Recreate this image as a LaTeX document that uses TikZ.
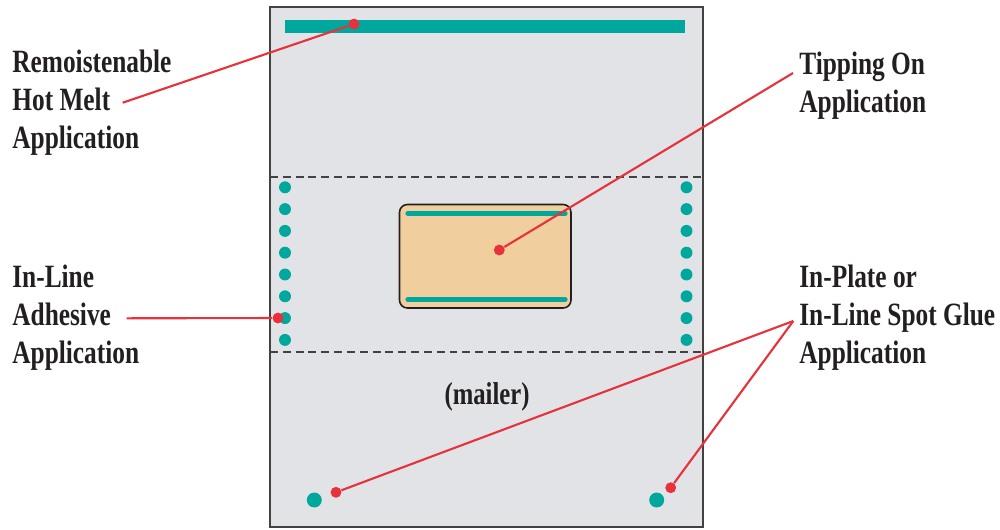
\documentclass[tikz,border=0pt]{standalone}
\usepackage{fontspec}
\newfontfamily\calloutfont{Liberation Serif}[FakeStretch=0.78]
\definecolor{sheet}{HTML}{E2E3E7}
\definecolor{glue}{HTML}{00A79D}
\definecolor{leader}{HTML}{E8313A}
\definecolor{card}{HTML}{F1CE9E}
\definecolor{ink}{HTML}{231F20}

\tikzset{%
  every node/.style={
    inner sep=0pt
  },
  callout/.style={
    font={\calloutfont\bfseries\fontsize{18.5pt}{21.4pt}\selectfont},
    align=left, anchor=base west, text=ink
  },
  gluedot/.style={circle, fill=glue, minimum size=6.8pt},
  spotdot/.style={circle, fill=glue, minimum size=8.5pt},
  pin/.style={circle, fill=leader, minimum size=6.2pt},
  leadline/.style={draw=leader, line width=1.2pt},
  gluebar/.style={draw=glue, line width=3pt, line cap=round}
}

\begin{document}
\begin{tikzpicture}[x=0.02cm, y=-0.02cm]
        \useasboundingbox (0,0) rectangle (1000,529);
        % mailer sheet
        \draw[draw=ink!85, fill=sheet, line width=1.1pt] (270,7) rectangle (703,527);
        \fill[glue] (285,20) rectangle (685,33);
        \draw[ink!85, line width=0.9pt, dash pattern=on 4.5pt off 2.8pt] (270,177) -- (703,177);
        \draw[ink!85, line width=0.9pt, dash pattern=on 4.5pt off 2.8pt] (270,352) -- (703,352);
        \foreach \i in {0,...,7} {
          \node[gluedot] (l\i) at (285,{187.3+21.8*\i}) {};
          \node[gluedot] (r\i) at (686.5,{187.3+21.8*\i}) {};
        }
        % tipped-on card
        \draw[draw=ink, fill=card, line width=0.9pt, rounded corners=4.5pt] (399.5,204.5) rectangle (571,308);
        \draw[gluebar] (408,213.5) -- (565,213.5);
        \draw[gluebar] (408,299.5) -- (565,299.5);
        \node[spotdot] (s1) at (314.3,500) {};
        \node[spotdot] (s2) at (656.7,500) {};
        \node[callout, font={\calloutfont\bfseries\fontsize{18pt}{20pt}\selectfont}, anchor=base] (mailer) at (487,404) {(mailer)};
        % labels (anchored on the last line)
        \node[callout] (hotmelt) at (12,148) {Remoistenable\\Hot Melt\\Application};
        \node[callout] (tipping) at (799,112) {Tipping On\\Application};
        \node[callout] (inline) at (12,363) {In-Line\\Adhesive\\Application};
        \node[callout] (spot) at (799,363) {In-Plate or\\In-Line Spot Glue\\Application};
        % leaders
        \node[pin] (p1) at (354,24) {};
        \node[pin] (p2) at (499.3,250) {};
        \node[pin] (p3) at (278,318) {};
        \node[pin] (p4) at (336,492.3) {};
        \node[pin] (p5) at (670.7,487.7) {};
        \coordinate (c1) at (122.7,102.7);
        \coordinate (c2) at (793,73);
        \coordinate (c3) at (126.7,318.3);
        \coordinate (c4) at (793.3,321);
        \draw[leadline] (c1) -- (p1);
        \draw[leadline] (c2) -- (p2);
        \draw[leadline] (c3) -- (p3);
        \draw[leadline] (c4) -- (p4);
        \draw[leadline] (c4) -- (p5);
      \end{tikzpicture}
\end{document}
